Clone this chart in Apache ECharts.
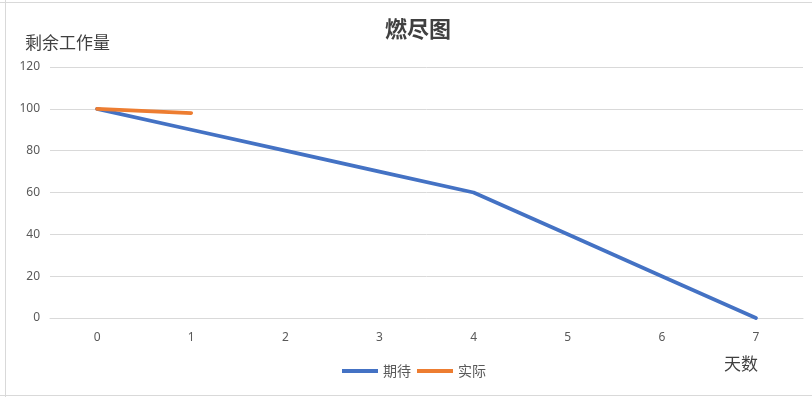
<!DOCTYPE html>
<html>
<head>
<meta charset="utf-8">
<title>燃尽图</title>
<script src="https://cdn.jsdelivr.net/npm/echarts@6/dist/echarts.min.js"></script>
<style>
  html, body { margin: 0; padding: 0; background: #fff; }
  #main { width: 812px; height: 397px; }
</style>
</head>
<body>
<div id="main"></div>
<script>
// 横轴：天数
var days = ['0', '1', '2', '3', '4', '5', '6', '7'];
// 期待剩余工作量
var expected = [100, 90, 80, 70, 60, 40, 20, 0];
// 实际剩余工作量（目前只有两天）
var actual = [100, 98];

var chart = echarts.init(document.getElementById('main'));

chart.setOption({
    animation: false,
    title: {
        text: '燃尽图',
        left: 413,
        textAlign: 'center',
        top: 13,
        textStyle: { fontFamily: 'Noto Sans CJK SC', fontSize: 22, fontWeight: 'bold', color: '#404040' }
    },
    // 仿 Excel 单元格边框
    graphic: [
        { type: 'line', shape: { x1: 5.5, y1: 0, x2: 5.5, y2: 397 }, style: { stroke: '#d9d9d9', lineWidth: 1 } },
        { type: 'line', shape: { x1: 0, y1: 2.5, x2: 812, y2: 2.5 }, style: { stroke: '#d9d9d9', lineWidth: 1 } },
        { type: 'line', shape: { x1: 0, y1: 395.5, x2: 812, y2: 395.5 }, style: { stroke: '#d9d9d9', lineWidth: 1 } },
        {
            type: 'text', left: 25, top: 34,
            style: { text: '剩余工作量', font: '17px "Noto Sans CJK SC"', fill: '#404040' }
        },
        {
            type: 'text', left: 724, top: 355,
            style: { text: '天数', font: '17px "Noto Sans CJK SC"', fill: '#404040' }
        }
    ],
    legend: {
        bottom: 14,
        left: 337,
        itemWidth: 36,
        itemHeight: 4,
        itemGap: 6,
        icon: 'rect',
        textStyle: { fontFamily: 'Noto Sans CJK SC', fontSize: 14, color: '#595959' },
        data: ['期待', '实际']
    },
    grid: { left: 50, right: 9, top: 67, bottom: 79 },
    xAxis: {
        type: 'category',
        data: days,
        boundaryGap: true,
        axisLine: { lineStyle: { color: '#d9d9d9', width: 1 } },
        axisTick: { show: false },
        axisLabel: { color: '#595959', fontSize: 12, margin: 14, fontFamily: 'Noto Sans' }
    },
    yAxis: {
        type: 'value',
        min: 0,
        max: 120,
        interval: 20,
        axisLine: { show: false },
        axisTick: { show: false },
        axisLabel: { color: '#595959', fontSize: 12, margin: 10, fontFamily: 'Noto Sans' },
        splitLine: { lineStyle: { color: '#d9d9d9', width: 1 } }
    },
    series: [
        {
            name: '期待',
            type: 'line',
            data: expected,
            symbol: 'none',
            lineStyle: { color: '#4472c4', width: 3.75, cap: 'round' },
            itemStyle: { color: '#4472c4' }
        },
        {
            name: '实际',
            type: 'line',
            data: actual,
            symbol: 'none',
            lineStyle: { color: '#ed7d31', width: 3.75, cap: 'round' },
            itemStyle: { color: '#ed7d31' }
        }
    ]
});
</script>
</body>
</html>
